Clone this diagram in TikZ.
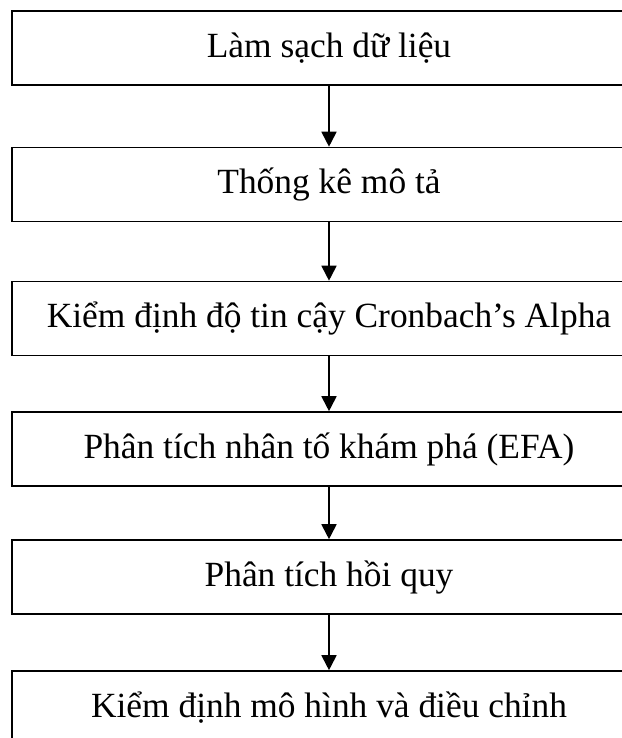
\documentclass[tikz,border=0pt]{standalone}
\usepackage{fontspec}
\setmainfont{Liberation Serif}
\usetikzlibrary{arrows.meta}

\begin{document}
\begin{tikzpicture}[x=1pt,y=-1pt,
  stepbox/.style={draw=black, line width=1.6pt, minimum width=634pt,
    minimum height=74pt, inner sep=0pt, anchor=center,
    font=\fontsize{35.4}{42}\selectfont},
  flow/.style={line width=1.8pt, -{Triangle[length=15pt,width=15pt]}}]
  \useasboundingbox (0,0) rectangle (621,738);

  % process steps, top to bottom
  \node[stepbox] (clean)  at (329,48)    {Làm sạch dữ liệu};
  \node[stepbox] (desc)   at (329,184.5) {Thống kê mô tả};
  \node[stepbox] (alpha)  at (329,318.5) {Kiểm định độ tin cậy Cronbach’s Alpha};
  \node[stepbox] (efa)    at (329,449)   {Phân tích nhân tố khám phá (EFA)};
  \node[stepbox] (reg)    at (329,577)   {Phân tích hồi quy};
  \node[stepbox] (check)  at (329,708)   {Kiểm định mô hình và điều chỉnh};

  % connectors
  \draw[flow] (clean) -- (desc);
  \draw[flow] (desc)  -- (alpha);
  \draw[flow] (alpha) -- (efa);
  \draw[flow] (efa)   -- (reg);
  \draw[flow] (reg)   -- (check);
\end{tikzpicture}
\end{document}
